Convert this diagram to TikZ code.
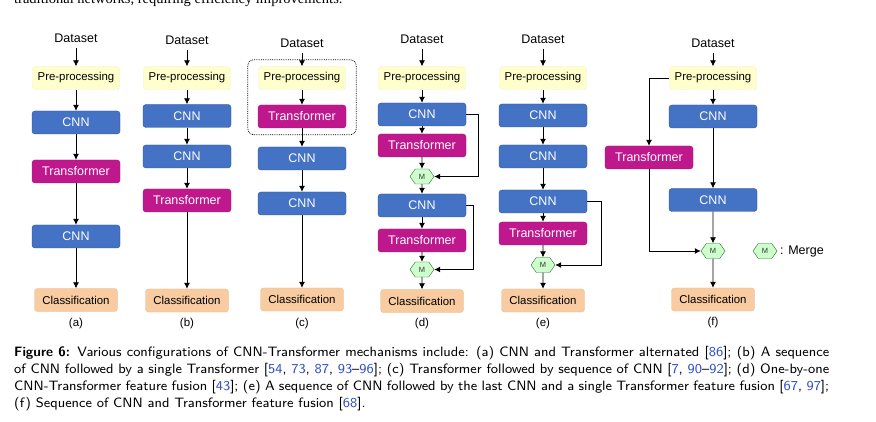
\documentclass[tikz,border=0pt]{standalone}
\usepackage{fontspec}
\setmainfont{Liberation Serif}
\newfontfamily\diagfont{Liberation Sans}
\newfontfamily\capfont{lmsans8-regular.otf}[BoldFont=lmsans10-bold.otf, Ligatures=TeX]
\usetikzlibrary{arrows.meta,positioning,fit,shapes.symbols}

\definecolor{cnnblue}{RGB}{68,114,196}
\definecolor{cnnedge}{RGB}{47,82,143}
\definecolor{transmag}{RGB}{190,24,140}
\definecolor{transedge}{RGB}{160,20,118}
\definecolor{prefill}{RGB}{255,255,204}
\definecolor{preedge}{RGB}{215,215,160}
\definecolor{clsfill}{RGB}{248,203,160}
\definecolor{clsedge}{RGB}{232,188,150}
\definecolor{mfill}{RGB}{204,255,204}
\definecolor{medge}{RGB}{40,110,40}
\definecolor{citeblue}{RGB}{50,80,200}
\newcommand{\cit}[1]{\textcolor{citeblue}{#1}}

\begin{document}
\begin{tikzpicture}[x=1pt, y=-1pt,
            box/.style={rectangle, rounded corners=3pt, minimum height=23pt, inner sep=1pt,
                        font=\diagfont\fontsize{12.5}{14}\selectfont},
            prep/.style={box, draw=preedge, densely dotted, fill=prefill, minimum width=87pt,
                         font=\diagfont\fontsize{11.4}{13}\selectfont},
            cnn/.style={box, draw=cnnedge, fill=cnnblue, text=white, minimum width=88pt},
            trans/.style={box, draw=transedge, fill=transmag, text=white, minimum width=88pt},
            cls/.style={box, draw=clsedge, fill=clsfill, minimum width=83pt,
                        font=\diagfont\fontsize{11.4}{13}\selectfont},
            data/.style={inner xsep=1pt, inner ysep=5pt, font=\diagfont\fontsize{12.5}{14}\selectfont},
            merge/.style={signal, signal to=east and west, signal pointer angle=110, draw=medge,
                          fill=mfill, minimum width=24pt, minimum height=15pt, inner sep=0pt,
                          text=black!80, font=\diagfont\fontsize{7.5}{8}\selectfont},
            sub/.style={font=\diagfont\fontsize{11.5}{13}\selectfont},
            flow/.style={draw, line width=0.8pt, -{Latex[length=6pt, width=6pt]}}]
        \useasboundingbox (0,0) rectangle (876,422);
        \fill[white] (0,0) rectangle (876,422);
        \clip (0,0) rectangle (876,422);
        \node[anchor=base west, inner sep=0pt, font=\fontsize{14.5}{17}\selectfont] (toptext) at (14,3.5)
            {traditional networks, requiring efficiency improvements.};

        % (a)
        \node[data] (a0) at (76,38) {Dataset};
        \node[prep] (a1) at (76,78) {Pre-processing};
        \node[cnn] (a2) at (76,122.5) {CNN};
        \node[trans] (a3) at (76,171.5) {Transformer};
        \node[cnn] (a4) at (76,236.5) {CNN};
        \node[cls] (a5) at (76,300) {Classification};
        \node[sub] (al) at (76,324) {(a)};
        \draw[flow] (a0) -- (a1);
        \draw[flow] (a1) -- (a2);
        \draw[flow] (a2) -- (a3);
        \draw[flow] (a3) -- (a4);
        \draw[flow] (a4) -- (a5);

        % (b)
        \node[data] (b0) at (187,40) {Dataset};
        \node[prep] (b1) at (187,78) {Pre-processing};
        \node[cnn] (b2) at (187,116) {CNN};
        \node[cnn] (b3) at (187,156.5) {CNN};
        \node[trans] (b4) at (187,200.5) {Transformer};
        \node[cls] (b5) at (187,300.5) {Classification};
        \node[sub] (bl) at (187,324) {(b)};
        \draw[flow] (b0) -- (b1);
        \draw[flow] (b1) -- (b2);
        \draw[flow] (b2) -- (b3);
        \draw[flow] (b3) -- (b4);
        \draw[flow] (b4) -- (b5);

        % (c)
        \node[data] (c0) at (302,43) {Dataset};
        \node[prep] (c1) at (302,78) {Pre-processing};
        \node[trans] (c2) at (302,116.5) {Transformer};
        \node[cnn] (c3) at (302,158.5) {CNN};
        \node[cnn] (c4) at (302,203.5) {CNN};
        \node[cls] (c5) at (302,299.5) {Classification};
        \node[sub] (cl) at (302,324) {(c)};
        \node[draw, densely dotted, line width=0.8pt, rounded corners=6pt, inner xsep=10pt, inner ysep=6.5pt,
              fit=(c1) (c2)] (cgroup) {};
        \draw[flow] (c0) -- (c1);
        \draw[flow] (c1) -- (c2);
        \draw[flow] (c2) -- (c3);
        \draw[flow] (c3) -- (c4);
        \draw[flow] (c4) -- (c5);

        % (d)
        \node[data] (d0) at (422,39) {Dataset};
        \node[prep] (d1) at (422,78) {Pre-processing};
        \node[cnn] (d2) at (422,114.5) {CNN};
        \node[trans] (d3) at (422,145.5) {Transformer};
        \node[merge] (dm1) at (422,176.5) {M};
        \node[cnn] (d4) at (422,205.5) {CNN};
        \node[trans] (d5) at (422,240.5) {Transformer};
        \node[merge] (dm2) at (422,269.5) {M};
        \node[cls] (d6) at (422,301) {Classification};
        \node[sub] (dl) at (422,324) {(d)};
        \draw[flow] (d0) -- (d1);
        \draw[flow] (d1) -- (d2);
        \draw[flow] (d2) -- (d3);
        \draw[flow] (d3) -- (dm1);
        \draw[flow] (dm1) -- (d4);
        \draw[flow] (d4) -- (d5);
        \draw[flow] (d5) -- (dm2);
        \draw[flow] (dm2) -- (d6);
        \draw[flow] (d2.east) -- ++(12,0) |- (dm1.east);
        \draw[flow] (d4.east) -- ++(7,0) |- (dm2.east);

        % (e)
        \node[data] (e0) at (543,39) {Dataset};
        \node[prep] (e1) at (543,78) {Pre-processing};
        \node[cnn] (e2) at (543,115.5) {CNN};
        \node[cnn] (e3) at (543,156.5) {CNN};
        \node[cnn] (e4) at (543,201.5) {CNN};
        \node[trans] (e5) at (543,233.5) {Transformer};
        \node[merge] (em) at (543,265) {M};
        \node[cls] (e6) at (543,300.5) {Classification};
        \node[sub] (el) at (543,324) {(e)};
        \draw[flow] (e0) -- (e1);
        \draw[flow] (e1) -- (e2);
        \draw[flow] (e2) -- (e3);
        \draw[flow] (e3) -- (e4);
        \draw[flow] (e4) -- (e5);
        \draw[flow] (e5) -- (em);
        \draw[flow] (em) -- (e6);
        \draw[flow] (e4.east) -- ++(14,0) |- (em.east);

        % (f)
        \node[data] (f0) at (713,43) {Dataset};
        \node[prep] (f1) at (713,78) {Pre-processing};
        \node[cnn] (f2) at (713,116.5) {CNN};
        \node[trans] (ft) at (649,157.5) {Transformer};
        \node[cnn] (f3) at (713,200) {CNN};
        \node[merge] (fm) at (713,251) {M};
        \node[cls] (f4) at (713,299.5) {Classification};
        \node[sub] (fl) at (713,323) {(f)};
        \draw[flow] (f0) -- (f1);
        \draw[flow] (f1) -- (f2);
        \draw[flow] (f2) -- (f3);
        \draw[flow] (f3) -- (fm);
        \draw[flow] (fm) -- (f4);
        \draw[flow] (f1.west) -| (ft.north);
        \draw[flow] (ft.south) |- (fm.west);

        % legend
        \node[merge] (lm) at (765,251) {M};
        \node[anchor=west, inner sep=0pt, font=\diagfont\fontsize{12.5}{14}\selectfont] (lt) at (780,251) {: Merge};

        % caption
        \node[anchor=north west, inner sep=0pt, text width=815pt, align=justify,
              font=\capfont\fontsize{13.6}{17}\selectfont] (caption) at (14,346)
            {\textbf{Figure 6:} Various configurations of CNN-Transformer mechanisms include: (a) CNN and Transformer alternated [\cit{86}]; (b) A sequence\linebreak
             of CNN followed by a single Transformer [\cit{54}, \cit{73}, \cit{87}, \cit{93}--\cit{96}]; (c) Transformer followed by sequence of CNN [\cit{7}, \cit{90}--\cit{92}]; (d) One-by-one\linebreak
             CNN-Transformer feature fusion [\cit{43}]; (e) A sequence of CNN followed by the last CNN and a single Transformer feature fusion [\cit{67}, \cit{97}];\linebreak
             (f) Sequence of CNN and Transformer feature fusion [\cit{68}].};
\end{tikzpicture}
\end{document}
